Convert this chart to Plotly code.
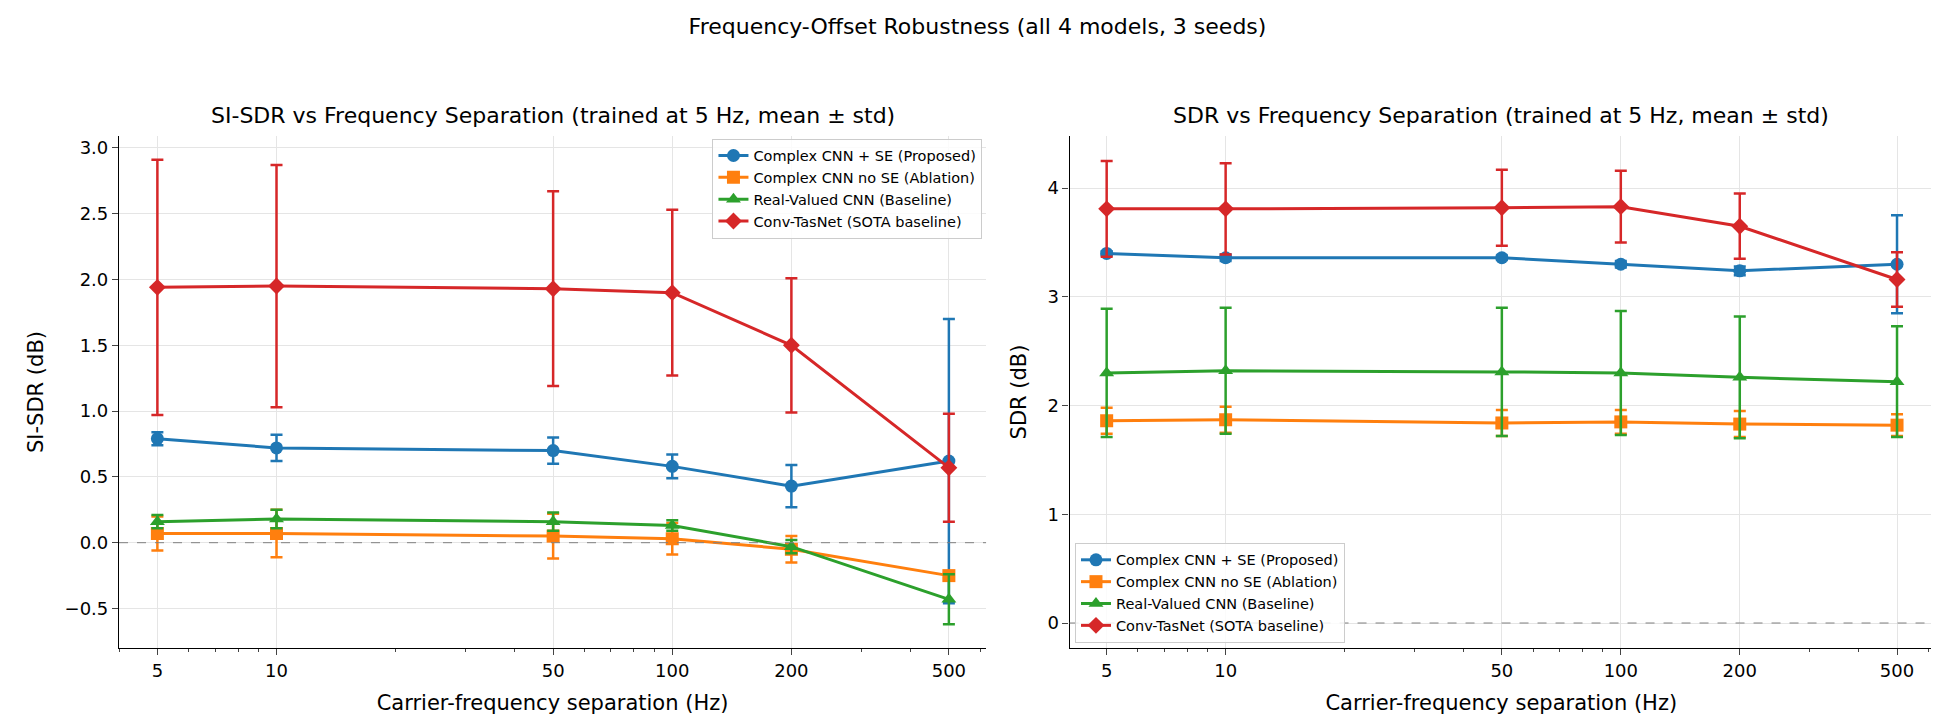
import plotly.graph_objects as go
from plotly.subplots import make_subplots

freqs = [5, 10, 50, 100, 200, 500]
names = ["Complex CNN + SE (Proposed)", "Complex CNN no SE (Ablation)", "Real-Valued CNN (Baseline)", "Conv-TasNet (SOTA baseline)"]
colors = ["#1f77b4", "#ff7f0e", "#2ca02c", "#d62728"]
symbols = ["circle", "square", "triangle-up", "diamond"]
minor_ticks = [4, 6, 7, 8, 9, 20, 30, 40, 60, 70, 80, 90, 300, 400, 600]

sisdr_mean = [
    [0.79, 0.72, 0.70, 0.58, 0.43, 0.62],
    [0.07, 0.07, 0.05, 0.03, -0.05, -0.25],
    [0.16, 0.18, 0.16, 0.13, -0.03, -0.43],
    [1.94, 1.95, 1.93, 1.90, 1.50, 0.57],
]
sisdr_std = [
    [0.05, 0.10, 0.10, 0.09, 0.16, 1.08],
    [0.13, 0.18, 0.17, 0.12, 0.10, 0.02],
    [0.05, 0.07, 0.07, 0.04, 0.05, 0.19],
    [0.97, 0.92, 0.74, 0.63, 0.51, 0.41],
]
sdr_mean = [
    [3.40, 3.36, 3.36, 3.30, 3.24, 3.30],
    [1.86, 1.87, 1.84, 1.85, 1.83, 1.82],
    [2.30, 2.32, 2.31, 2.30, 2.26, 2.22],
    [3.81, 3.81, 3.82, 3.83, 3.65, 3.16],
]
sdr_std = [
    [0.02, 0.03, 0.02, 0.03, 0.04, 0.45],
    [0.12, 0.12, 0.12, 0.11, 0.12, 0.10],
    [0.59, 0.58, 0.59, 0.57, 0.56, 0.51],
    [0.44, 0.42, 0.35, 0.33, 0.30, 0.25],
]

fig = make_subplots(rows=1, cols=2,
                    subplot_titles=["SI-SDR vs Frequency Separation (trained at 5 Hz, mean ± std)",
                                    "SDR vs Frequency Separation (trained at 5 Hz, mean ± std)"])
for col, (M, S) in enumerate([(sisdr_mean, sisdr_std), (sdr_mean, sdr_std)], start=1):
    for i in range(4):
        fig.add_trace(go.Scatter(
            x=freqs, y=M[i], mode="lines+markers", name=names[i],
            line=dict(color=colors[i], width=3),
            marker=dict(symbol=symbols[i], size=13, color=colors[i]),
            error_y=dict(type="data", array=S[i], color=colors[i], thickness=2.5, width=6),
            legend="legend" if col == 1 else "legend2"), row=1, col=col)
    fig.add_hline(y=0, line=dict(color="gray", width=1, dash="dash"), row=1, col=col)

ax = dict(type="log", showline=True, linecolor="black", linewidth=1.2, ticks="outside", ticklen=6,
          tickvals=freqs, ticktext=[str(f) for f in freqs], showgrid=True, gridcolor="#e5e5e5",
          minor=dict(ticks="outside", ticklen=3, showgrid=False, tickvals=minor_ticks),
          title=dict(text="Carrier-frequency separation (Hz)", font=dict(size=21)), zeroline=False,
          tickfont=dict(size=18))
fig.update_xaxes(**ax)
fig.update_xaxes(range=[0.602, 2.793], domain=[0, 0.478], row=1, col=1)
fig.update_xaxes(range=[0.605, 2.79], domain=[0.524, 1], row=1, col=2)
ay = dict(showline=True, linecolor="black", linewidth=1.2, ticks="outside", ticklen=6, showgrid=True,
          gridcolor="#e5e5e5", zeroline=False, tickfont=dict(size=18))
fig.update_yaxes(**ay)
fig.update_yaxes(range=[-0.80, 3.09], dtick=0.5, tickformat=".1f",
                 title=dict(text="SI-SDR (dB)", font=dict(size=21)), row=1, col=1)
fig.update_yaxes(range=[-0.23, 4.48], dtick=1, title=dict(text="SDR (dB)", font=dict(size=21)), row=1, col=2)
for a, xc in zip(fig.layout.annotations, [0.239, 0.762]):
    a.font = dict(size=22, color="black")
    a.x = xc
    a.yshift = 6

leg = dict(bgcolor="rgba(255,255,255,0.85)", bordercolor="#cccccc", borderwidth=1,
           font=dict(size=14.5), tracegroupgap=0, itemwidth=30)
fig.update_layout(
    width=1939, height=718, plot_bgcolor="white", paper_bgcolor="white",
    font=dict(family="DejaVu Sans", color="black"),
    title=dict(text="Frequency-Offset Robustness (all 4 models, 3 seeds)", x=0.5, y=0.985,
               xanchor="center", font=dict(size=22)),
    margin=dict(l=111, r=14, t=128, b=78),
    legend=dict(x=0.476, y=0.995, xanchor="right", yanchor="top", **leg),
    legend2=dict(x=0.527, y=0.01, xanchor="left", yanchor="bottom", **leg),
)
fig.write_html("out.html")
